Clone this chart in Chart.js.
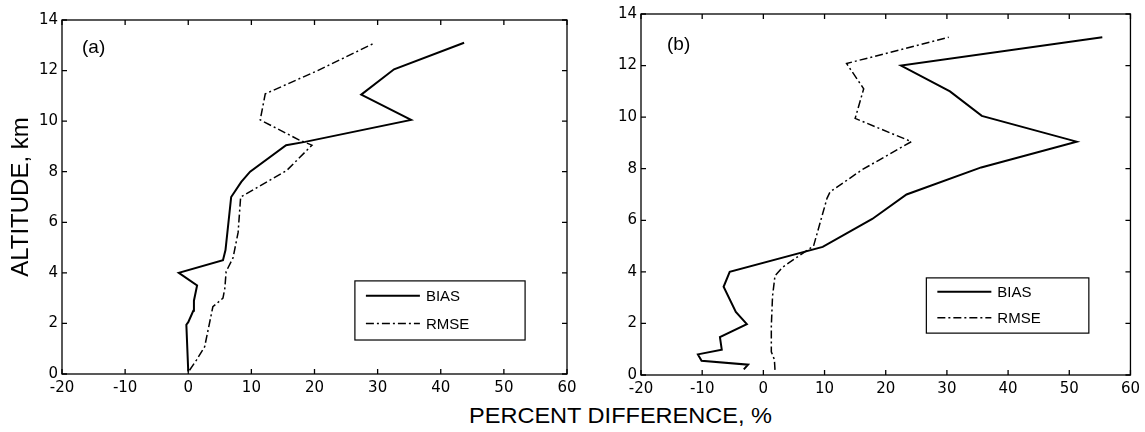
<!DOCTYPE html>
<html>
<head>
<meta charset="utf-8">
<script src="https://cdn.jsdelivr.net/npm/chart.js@4/dist/chart.umd.min.js"></script>
<style>
  html, body { margin: 0; padding: 0; background: #fff; }
  #wrap { position: relative; width: 1145px; height: 432px; background: #fff; overflow: hidden; }
  .pane { position: absolute; top: 0; }
  #xtitle { position: absolute; left: 469px; top: 403px; font: 22px "Liberation Sans", Arial, sans-serif; color: #000; white-space: nowrap; transform: scaleX(1.07); transform-origin: left center; }
</style>
</head>
<body>
<div id="wrap">
  <div class="pane" style="left:0px;width:585px;height:400px"><canvas id="ca" width="585" height="400"></canvas></div>
  <div class="pane" style="left:575px;width:570px;height:400px"><canvas id="cb" width="570" height="400"></canvas></div>
  <div id="xtitle">PERCENT DIFFERENCE, %</div>
</div>
<script>
// ---------- data ----------
const xTickVals = [-20, -10, 0, 10, 20, 30, 40, 50, 60];
const yTickVals = [0, 2, 4, 6, 8, 10, 12, 14];
const seriesNames = ['BIAS', 'RMSE'];

// panel (a)
const aBiasAlt = [0.1, 1.95, 2.05, 2.5, 2.9, 3.5, 4.0, 4.5, 4.9, 7.0, 7.6, 8.0, 9.05, 9.18, 10.05, 11.05, 12.05, 13.1];
const aBiasVal = [0.0, -0.3, 0.0, 0.8, 0.9, 1.4, -1.5, 5.5, 5.9, 6.8, 8.4, 9.8, 15.5, 18.5, 35.3, 27.4, 32.6, 43.7];
const aRmseAlt = [0.15, 0.55, 1.08, 2.66, 3.0, 3.4, 4.05, 4.6, 5.6, 7.0, 8.05, 9.05, 9.25, 10.05, 11.08, 12.0, 13.1];
const aRmseVal = [0.2, 1.3, 2.6, 3.9, 5.5, 5.8, 6.0, 7.1, 7.9, 8.3, 15.6, 19.6, 17.6, 11.4, 12.2, 20.5, 29.6];

// panel (b)
const bBiasAlt = [0.22, 0.4, 0.55, 0.8, 0.98, 1.47, 1.97, 2.45, 3.42, 4.0, 4.97, 6.05, 7.0, 8.05, 9.05, 10.05, 11.0, 12.0, 13.1];
const bBiasVal = [-3.2, -2.5, -10.1, -10.7, -6.8, -7.1, -2.7, -4.5, -6.5, -5.5, 9.7, 17.8, 23.4, 35.6, 51.2, 35.7, 30.5, 22.5, 55.4];
const bRmseAlt = [0.2, 0.6, 0.9, 1.9, 3.06, 3.85, 4.17, 4.62, 5.0, 6.85, 7.1, 7.97, 9.05, 9.95, 11.1, 12.08, 13.1];
const bRmseVal = [1.9, 1.8, 1.3, 1.3, 1.5, 1.9, 3.1, 5.8, 8.2, 10.4, 10.9, 16.2, 24.2, 15.0, 16.4, 13.6, 30.3];

// ---------- helpers ----------
const FONT = '"Liberation Sans", Arial, sans-serif';
const TICKFONT = '"DejaVu Sans", "Liberation Sans", Arial, sans-serif';
const pts = (alt, val) => alt.map((a, i) => ({ x: val[i], y: a }));

const framePlugin = {
  id: 'frame',
  afterDraw(chart, args, o) {
    const { ctx, chartArea: a, scales: { x, y } } = chart;
    ctx.save();
    ctx.strokeStyle = '#000';
    ctx.lineWidth = 1.3;
    ctx.setLineDash([]);
    ctx.strokeRect(a.left, a.top, a.right - a.left, a.bottom - a.top);
    const L = 5;
    ctx.beginPath();
    x.ticks.forEach(t => {
      const px = x.getPixelForValue(t.value);
      ctx.moveTo(px, a.bottom); ctx.lineTo(px, a.bottom - L);
      ctx.moveTo(px, a.top); ctx.lineTo(px, a.top + L);
    });
    y.ticks.forEach(t => {
      const py = y.getPixelForValue(t.value);
      ctx.moveTo(a.left, py); ctx.lineTo(a.left + L, py);
      ctx.moveTo(a.right, py); ctx.lineTo(a.right - L, py);
    });
    ctx.stroke();

    // panel label
    ctx.fillStyle = '#000';
    ctx.font = '19px ' + FONT;
    ctx.textBaseline = 'middle';
    ctx.textAlign = 'left';
    ctx.fillText(o.label, a.left + o.labelDx, a.top + o.labelDy);

    // legend box
    const w = a.right - a.left, h = a.bottom - a.top;
    const bx = a.left + o.lx * w, by = a.top + o.ly * h;
    const bw = (o.lx2 - o.lx) * w, bh = (o.ly2 - o.ly) * h;
    ctx.fillStyle = '#fff';
    ctx.fillRect(bx, by, bw, bh);
    ctx.lineWidth = 1.2;
    ctx.strokeRect(bx, by, bw, bh);
    chart.data.datasets.forEach((ds, i) => {
      const yy = by + bh * (i === 0 ? 0.25 : 0.72);
      ctx.save();
      ctx.lineWidth = ds.borderWidth;
      ctx.setLineDash(ds.borderDash || []);
      ctx.beginPath();
      ctx.moveTo(bx + 11, yy); ctx.lineTo(bx + 65, yy);
      ctx.stroke();
      ctx.restore();
      ctx.fillStyle = '#000';
      ctx.font = '15px ' + FONT;
      ctx.fillText(ds.label, bx + 71, yy + 1);
    });
    ctx.restore();
  }
};

function makeChart(id, biasPts, rmsePts, cfg) {
  return new Chart(document.getElementById(id), {
    type: 'scatter',
    data: {
      datasets: [
        { label: seriesNames[0], data: biasPts, showLine: true, borderColor: '#000', borderWidth: 2, pointRadius: 0, tension: 0, fill: false },
        { label: seriesNames[1], data: rmsePts, showLine: true, borderColor: '#000', borderWidth: 1.5, borderDash: [8, 3, 2, 3], pointRadius: 0, tension: 0, fill: false }
      ]
    },
    options: {
      responsive: false,
      animation: false,
      devicePixelRatio: 1,
      layout: { padding: { top: cfg.top, right: cfg.right, left: 0, bottom: 0 } },
      plugins: {
        legend: { display: false },
        tooltip: { enabled: false },
        frame: cfg.frame
      },
      scales: {
        x: {
          type: 'linear', min: -20, max: 60,
          grid: { display: false, drawTicks: false },
          border: { display: false },
          ticks: { color: '#000', font: { size: 15, family: TICKFONT }, padding: 5, autoSkip: false, maxRotation: 0 },
          afterBuildTicks: s => { s.ticks = xTickVals.map(v => ({ value: v })); },
          afterFit: s => { s.height = cfg.xh; }
        },
        y: {
          type: 'linear', min: 0, max: 14,
          grid: { display: false, drawTicks: false },
          border: { display: false },
          ticks: { color: '#000', font: { size: 15, family: TICKFONT }, padding: 4, autoSkip: false },
          afterBuildTicks: s => { s.ticks = yTickVals.map(v => ({ value: v })); },
          afterFit: s => { s.width = cfg.yw; },
          title: cfg.ytitle ? { display: true, text: cfg.ytitle, color: '#000', font: { size: 24, family: FONT }, padding: { top: 7, bottom: 0 } } : { display: false }
        }
      }
    },
    plugins: [framePlugin]
  });
}

makeChart('ca', pts(aBiasAlt, aBiasVal), pts(aRmseAlt, aRmseVal), {
  top: 20, right: 18, xh: 26, yw: 62, ytitle: 'ALTITUDE, km',
  frame: { label: '(a)', labelDx: 20, labelDy: 28, lx: 0.58, lx2: 0.917, ly: 0.737, ly2: 0.904 }
});
makeChart('cb', pts(bBiasAlt, bBiasVal), pts(bRmseAlt, bRmseVal), {
  top: 14, right: 12, xh: 25, yw: 66, ytitle: null,
  frame: { label: '(b)', labelDx: 26, labelDy: 31, lx: 0.583, lx2: 0.915, ly: 0.731, ly2: 0.884 }
});
</script>
</body>
</html>
